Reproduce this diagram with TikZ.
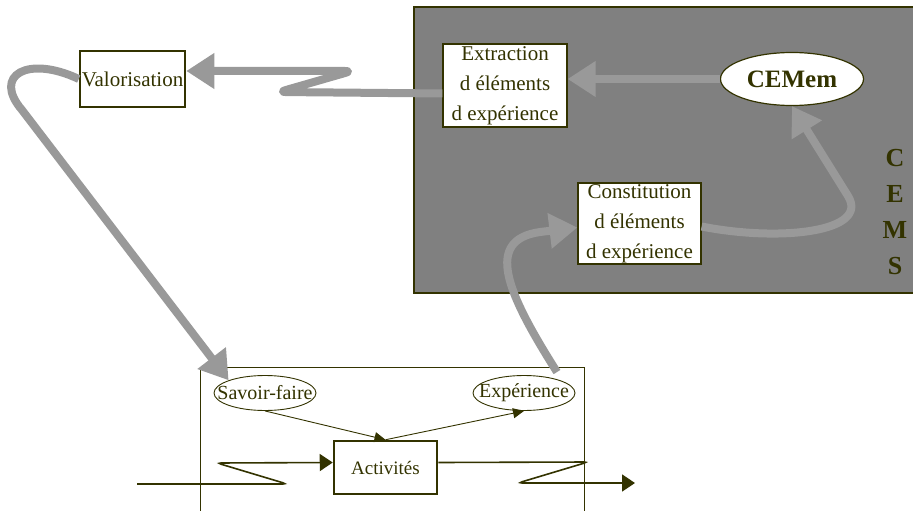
\documentclass[tikz,border=0pt]{standalone}
\usepackage{fontspec}
\setmainfont{Liberation Serif}
\usetikzlibrary{arrows.meta,shapes.geometric}
\definecolor{trait}{HTML}{333300}
\definecolor{fond}{HTML}{808080}
\definecolor{fleche}{HTML}{999999}
\begin{document}
\begin{tikzpicture}[x=1pt,y=-1pt]

      \tikzset{boite/.style={draw=trait, fill=white, inner sep=0pt, text=trait, align=center, font=\fontsize{21}{30}\selectfont},
               bulle/.style={ellipse, draw=trait, fill=white, inner sep=0pt, text=trait, font=\fontsize{20}{24}\selectfont},
               flux/.style={draw=fleche, line width=8pt, line join=round, -{Triangle[length=28pt,width=34pt]}},
               lien/.style={draw=trait, line width=0.9pt, -{Triangle[length=11pt,width=10pt]}},
               zigzag/.style={draw=trait, line width=1.6pt, rounded corners=4pt, -{Triangle[length=13pt,width=17pt]}}}
      \useasboundingbox (0,0) rectangle (913,511);
%% Zones
      	\node[draw=trait, line width=1.2pt, fill=fond, inner sep=0pt, minimum width=511pt, minimum height=286pt] (cems) at (669.5,150) {};
      	\node[draw=trait, line width=0.9pt, inner sep=0pt, minimum width=384pt, minimum height=170pt] (proc) at (392,452) {};
%% Vertices
      	\node[boite, line width=2.5pt, minimum width=105pt, minimum height=56pt] (valo) at (132.5,79) {Valorisation};
      	\node[boite, line width=1.2pt, minimum width=124pt, minimum height=83pt] (extr) at (505,85.5) {Extraction\\d éléments\\d expérience};
      	\node[bulle, line width=1.2pt, minimum width=143pt, minimum height=53pt, font=\bfseries\fontsize{25}{30}\selectfont] (cemem) at (792,79) {CEMem};
      	\node[boite, line width=1.2pt, minimum width=123pt, minimum height=81pt] (constit) at (639.5,223.5) {Constitution\\d éléments\\d expérience};
      	\node[text=trait, align=center, font=\bfseries\fontsize{26}{36}\selectfont] (lettres) at (895,212) {C\\E\\M\\S};
      	\node[bulle, line width=0.9pt, inner xsep=-25pt, minimum width=102pt, minimum height=35pt] (savoir) at (265,393) {Savoir-faire};
      	\node[bulle, line width=0.9pt, inner xsep=-25pt, minimum width=102pt, minimum height=35pt] (exp) at (524,393) {Expérience};
      	\node[boite, line width=2.5pt, minimum width=103pt, minimum height=53pt, font=\fontsize{19}{24}\selectfont] (activ) at (385.5,467.5) {Activités};
      	\coordinate (entree) at (137,484);
      	\coordinate (sortie) at (635,483);
%Edges
		\draw[flux] (cemem.west) -- (cemem.west -| extr.east);
		\draw[flux, rounded corners=7pt] ([yshift=-8pt]extr.west) -- (279,92) -- (352,71) -- ([yshift=8pt]valo.east);
		\draw[flux] (valo.west) .. controls (28,55) and (-8,75) .. (22,110) -- (savoir.north west);
		\draw[flux] ([xshift=33pt,yshift=3pt]exp.north) .. controls (505,290) and (485,240) .. (540,232) -- ([yshift=-4pt]constit.west);
		\draw[flux] ([yshift=-3pt]constit.east) .. controls (780,242) and (870,232) .. (848,196) -- (cemem.south);
		\draw[lien] (savoir.south) -- (activ.north);
		\draw[lien] (activ.north) -- (exp.south);
		\draw[zigzag] (entree) -- (287,484) -- (217,463) -- ([yshift=5pt]activ.west);
		\draw[zigzag] ([yshift=5pt]activ.east) -- (588,462) -- (518,483) -- (sortie);

	\end{tikzpicture}
\end{document}
